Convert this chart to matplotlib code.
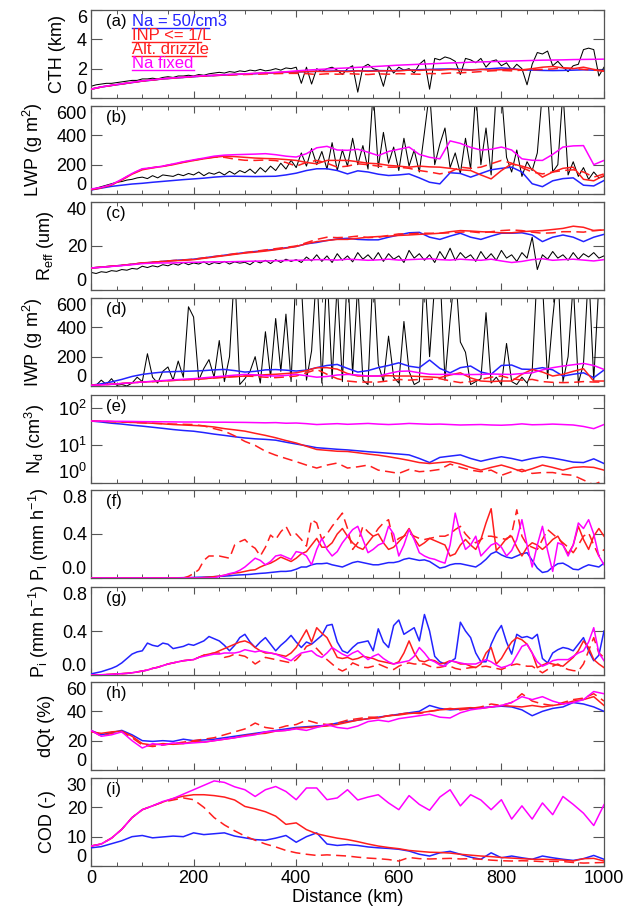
import numpy as np
import matplotlib
matplotlib.use("Agg")
import matplotlib.pyplot as plt
from matplotlib.ticker import MultipleLocator, NullLocator, FixedLocator

plt.rcParams["font.family"] = ["Liberation Sans", "DejaVu Sans"]
plt.rcParams["mathtext.fontset"] = "custom"
plt.rcParams["mathtext.rm"] = "Liberation Sans"
plt.rcParams["mathtext.it"] = "Liberation Sans:italic"
plt.rcParams["mathtext.default"] = "regular"

# distance grids (km): model runs every 20 km, obs / precip every 10 km
dist = np.arange(0, 1001, 20)
dist_fine = np.arange(0, 1001, 10)

# ---------------- (a) cloud top height (km)
cth_obs = [0.8, 0.9, 0.95, 1.0, 1.0, 1.05, 1.1, 1.15, 1.2, 1.2,
           1.3, 1.3, 1.35, 1.3, 1.4, 1.45, 1.4, 1.5, 1.5, 1.55,
           1.5, 1.6, 1.55, 1.65, 1.7, 1.75, 1.7, 1.8, 1.75, 1.85,
           1.8, 1.9, 1.85, 1.95, 1.85, 1.9, 2.0, 1.9, 2.05, 2.0,
           2.1, 1.0, 2.1, 0.95, 2.0, 1.8, 2.0, 2.1, 1.9, 1.6,
           2.0, 2.2, 0.4, 2.1, 2.3, 2.0, 1.9, 0.8, 2.2, 1.7,
           2.1, 1.9, 2.0, 1.7, 2.3, 2.6, 0.6, 2.7, 2.6, 2.8,
           2.7, 2.5, 1.6, 2.7, 2.6, 2.4, 2.7, 2.1, 2.5, 2.6,
           2.2, 2.4, 1.9, 2.3, 2.0, 0.9, 2.3, 3.1, 3.0, 3.2,
           2.2, 2.5, 2.1, 1.8, 2.2, 2.3, 3.3, 3.4, 3.3, 1.5,
           2.1]
cth_na50 = [0.6, 0.75, 0.85, 0.95, 1.05, 1.15, 1.22, 1.3, 1.35, 1.4,
            1.45, 1.5, 1.53, 1.57, 1.6, 1.63, 1.66, 1.69, 1.72, 1.75,
            1.77, 1.8, 1.82, 1.83, 1.85, 1.84, 1.86, 1.85, 1.87, 1.86,
            1.88, 1.9, 1.93, 1.95, 1.97, 1.98, 1.96, 1.92, 1.95, 2.0,
            2.05, 2.0, 1.92, 1.9, 1.88, 1.87, 1.88, 1.9, 1.92, 1.9,
            1.88]
cth_inp = [0.6, 0.75, 0.86, 0.96, 1.06, 1.16, 1.23, 1.31, 1.36, 1.41,
           1.46, 1.51, 1.54, 1.58, 1.61, 1.64, 1.67, 1.7, 1.73, 1.76,
           1.78, 1.8, 1.82, 1.8, 1.83, 1.8, 1.85, 1.82, 1.84, 1.86,
           1.85, 1.9, 1.88, 1.92, 1.9, 1.95, 1.92, 1.9, 1.95, 1.9,
           1.93, 1.96, 1.92, 2.0, 2.1, 2.15, 2.05, 2.0, 2.1, 1.95,
           1.82]
cth_drz = [0.6, 0.75, 0.86, 0.96, 1.06, 1.16, 1.23, 1.31, 1.36, 1.41,
           1.46, 1.5, 1.53, 1.56, 1.58, 1.6, 1.62, 1.64, 1.66, 1.68,
           1.68, 1.66, 1.6, 1.65, 1.62, 1.66, 1.63, 1.6, 1.65, 1.62,
           1.66, 1.64, 1.62, 1.67, 1.65, 1.7, 1.72, 1.75, 1.8, 1.85,
           1.88, 1.85, 1.9, 1.92, 1.95, 1.98, 2.05, 2.02, 1.95, 1.9,
           1.85]
cth_fix = [0.6, 0.76, 0.87, 0.97, 1.07, 1.17, 1.24, 1.32, 1.37, 1.42,
           1.47, 1.52, 1.55, 1.59, 1.62, 1.65, 1.68, 1.72, 1.75, 1.79,
           1.85, 1.9, 1.94, 1.98, 2.02, 2.05, 2.09, 2.12, 2.16, 2.2,
           2.24, 2.27, 2.3, 2.33, 2.36, 2.39, 2.41, 2.44, 2.46, 2.48,
           2.5, 2.52, 2.54, 2.56, 2.58, 2.59, 2.6, 2.62, 2.63, 2.64,
           2.65]

# ---------------- (b) liquid water path (g m-2)
lwp_obs = [30, 40, 50, 60, 70, 80, 85, 95, 100, 110,
           115, 105, 125, 110, 130, 125, 120, 135, 125, 140,
           130, 150, 125, 145, 135, 150, 130, 155, 135, 160,
           145, 170, 140, 180, 150, 190, 160, 210, 170, 230,
           180, 280, 190, 310, 200, 290, 170, 350, 160, 300,
           190, 380, 200, 330, 170, 700, 180, 420, 210, 320,
           160, 380, 190, 300, 150, 420, 700, 200, 340, 450,
           180, 280, 140, 380, 170, 700, 200, 450, 130, 700,
           700, 250, 150, 300, 120, 220, 160, 280, 700, 700,
           150, 200, 700, 130, 220, 120, 180, 100, 150, 110,
           120]
lwp_na50 = [27, 40, 52, 60, 68, 73, 80, 86, 92, 98,
            103, 108, 115, 120, 121, 120, 119, 120, 121, 130,
            142, 160, 172, 172, 160, 137, 158, 150, 135, 126,
            130, 137, 110, 80, 69, 145, 140, 115, 140, 165,
            175, 183, 150, 70, 50, 90, 105, 110, 60, 55,
            92]
lwp_inp = [30, 42, 62, 95, 135, 165, 178, 188, 200, 215,
           228, 240, 250, 258, 255, 250, 245, 242, 240, 235,
           229, 215, 206, 229, 229, 229, 220, 210, 206, 195,
           190, 183, 190, 185, 183, 175, 165, 160, 130, 103,
           160, 206, 190, 170, 115, 150, 175, 183, 100, 90,
           126]
lwp_drz = [30, 42, 62, 98, 138, 170, 180, 190, 203, 218,
           230, 242, 252, 250, 238, 230, 229, 232, 228, 215,
           190, 215, 229, 210, 183, 190, 206, 200, 190, 183,
           183, 175, 160, 150, 137, 150, 183, 175, 183, 206,
           229, 210, 180, 150, 137, 150, 160, 165, 150, 115,
           137]
lwp_fix = [34, 45, 65, 100, 140, 172, 180, 190, 205, 220,
           233, 245, 258, 265, 268, 270, 272, 275, 268, 258,
           252, 275, 315, 325, 300, 298, 305, 285, 262, 290,
           305, 320, 270, 250, 240, 362, 345, 318, 300, 305,
           320, 300, 240, 230, 229, 270, 320, 328, 330, 200,
           229]

# ---------------- (c) effective radius (um)
reff_obs = [8, 7.5, 8.3, 8, 8.8, 8.5, 9.3, 9, 9.8, 9.5,
            10.8, 10.2, 11, 10.5, 11.5, 11, 12, 11.3, 12.5, 11.5,
            12.3, 11.8, 12.8, 11.5, 12.5, 12, 13, 11.8, 12.8, 12.2,
            12.6, 11.5, 13.2, 12.3, 13.5, 12, 13.8, 12.5, 14, 13,
            13.8, 12.5, 15, 13.2, 16, 13, 15.5, 12.5, 16.5, 13.5,
            15.5, 12.8, 17, 14, 16, 13.5, 17, 13, 16.5, 14,
            15.5, 12.5, 18, 14.5, 16.5, 13.5, 16, 12.5, 17.5, 14,
            19, 13.5, 17, 14.5, 16, 13, 17.5, 14, 16.5, 13.5,
            18, 14.5, 16, 13, 17, 14.5, 24, 9.3, 16, 14,
            17.5, 14.5, 16, 13.5, 17, 14, 16.5, 15, 17, 14.5,
            15.5]
reff_na50 = [10, 10.4, 10.8, 11.2, 11.7, 12.2, 12.6, 13, 13.4, 13.7,
             14, 14.6, 15.2, 15.8, 16.4, 17, 17.5, 18, 18.5, 19.2,
             19.8, 21, 21.6, 22.5, 23.2, 23.5, 23, 22.8, 22.8, 24,
             25, 26, 26.2, 24, 23, 24.5, 25.8, 24, 23, 24.5,
             25.8, 25.8, 26, 25, 22, 24, 25, 24, 22, 24,
             25.3]
reff_inp = [10, 10.4, 10.8, 11.2, 11.7, 12.3, 12.6, 13, 13.3, 13.5,
            13.8, 14.4, 15, 15.6, 16.2, 16.8, 17.2, 17.7, 18.3, 19,
            19.8, 21, 22, 22.5, 23, 23, 23.5, 24, 24.3, 24.5,
            24.8, 25, 25.3, 25.5, 25.8, 26.5, 27, 26.8, 26.5, 26.3,
            26, 26, 26.5, 26.8, 27, 27.5, 28, 29, 28.5, 27,
            27.3]
reff_drz = [10, 10.4, 10.8, 11.2, 11.7, 12.3, 12.6, 13, 13.4, 13.6,
            14, 14.6, 15.2, 15.8, 16.5, 17, 17.6, 18.2, 18.8, 19.4,
            20, 21.5, 23, 24, 23.8, 24, 24.5, 23.8, 24, 24.8,
            25.5, 25.5, 25.8, 25.8, 25.8, 26, 26.3, 26.5, 26, 26.5,
            27, 27.3, 27, 26.3, 25.8, 26, 26.5, 26.5, 26.3, 27,
            27.3]
reff_fix = [10, 10.3, 10.7, 11.1, 11.5, 12, 12.2, 12.3, 12.3, 12.5,
            12.6, 12.7, 12.8, 12.8, 12.9, 13, 13.1, 13.2, 13.3, 13.4,
            13.5, 13.6, 13.8, 13.8, 13.6, 14, 13.8, 13.5, 13.7, 14,
            13.6, 13.8, 14, 14.2, 13.8, 13.6, 14, 13.7, 13.5, 14,
            13.2, 12.5, 13, 13.8, 14.2, 13.5, 13.8, 14, 13.6, 13.2,
            13.8]

# ---------------- (d) ice water path (g m-2)
iwp_obs = [0, 5, 40, 10, 50, 5, 10, 0, 20, 60,
           30, 220, 60, 20, 100, 130, 40, 170, 60, 540,
           470, 40, 120, 180, 60, 310, 30, 200, 800, 10,
           50, 100, 200, 20, 370, 60, 460, 100, 490, 30,
           800, 700, 40, 240, 800, 20, 800, 50, 700, 30,
           800, 80, 700, 40, 10, 800, 150, 30, 340, 60,
           20, 440, 100, 10, 30, 800, 200, 700, 800, 40,
           450, 800, 300, 230, 10, 30, 50, 500, 20, 60,
           10, 290, 30, 10, 60, 20, 100, 800, 700, 50,
           460, 800, 30, 200, 700, 20, 150, 800, 40, 700,
           800]
iwp_na50 = [5, 15, 28, 45, 65, 79, 88, 95, 98, 100,
            102, 105, 110, 113, 105, 95, 100, 110, 112, 108,
            102, 108, 125, 140, 147, 120, 95, 105, 125, 140,
            158, 135, 125, 177, 120, 90, 125, 136, 95, 80,
            140, 143, 115, 113, 125, 110, 68, 80, 90, 57,
            109]
iwp_inp = [5, 8, 12, 17, 22, 27, 30, 34, 38, 42,
           45, 50, 55, 60, 64, 68, 72, 77, 80, 85,
           90, 105, 125, 125, 115, 85, 68, 68, 68, 70,
           68, 68, 65, 62, 57, 75, 90, 55, 34, 30,
           34, 34, 80, 113, 95, 68, 80, 100, 118, 34,
           34]
iwp_drz = [5, 8, 12, 17, 22, 27, 30, 34, 38, 42,
           45, 50, 55, 60, 64, 68, 65, 60, 57, 62,
           68, 90, 113, 80, 50, 34, 27, 27, 27, 35,
           45, 40, 45, 45, 50, 35, 23, 30, 45, 60,
           68, 50, 40, 45, 30, 25, 23, 25, 30, 27,
           27]
iwp_fix = [5, 8, 12, 17, 22, 27, 32, 37, 42, 46,
           50, 56, 62, 68, 74, 79, 76, 70, 68, 72,
           79, 70, 60, 65, 75, 79, 75, 68, 68, 85,
           100, 102, 90, 80, 79, 80, 79, 78, 79, 82,
           80, 79, 85, 90, 110, 125, 136, 145, 154, 140,
           113]

# ---------------- (e) droplet number (cm-3)
nd_na50 = [44.6, 42, 39, 37, 34.5, 32.6, 30.5, 28.5, 26.5, 25,
           23.9, 22, 20, 18.5, 17, 15.8, 15, 14.5, 13.8, 12.2,
           10.9, 9.8, 8.7, 8.3, 7.9, 7.6, 7.2, 6.8, 6.5, 6.2,
           5.9, 5.6, 4.5, 3.5, 4.8, 5.2, 5.6, 4.5, 3.8, 4.4,
           5.0, 4.5, 3.9, 4.5, 5.0, 4.6, 4.1, 3.6, 3.5, 4.4,
           3.3]
nd_inp = [44.6, 44, 43, 42, 41, 40, 39, 37.5, 36, 35,
          34, 33, 31, 28, 26, 24, 21, 18.5, 16, 13.5,
          11.6, 9.5, 7.8, 7.4, 7.0, 6.9, 6.4, 5.9, 5.5, 5.0,
          4.5, 4.0, 3.5, 3.3, 3.5, 3.7, 3.2, 2.6, 2.2, 2.6,
          3.0, 2.5, 2.0, 2.4, 3.0, 2.6, 2.2, 2.6, 2.7, 2.6,
          2.2]
nd_drz = [44.6, 44, 43, 42, 41, 40, 39, 38, 37, 36.5,
          36, 33, 28, 24, 18, 12.8, 10, 7, 5.5, 4.5,
          3.7, 3.0, 2.5, 3.0, 3.4, 2.5, 2.7, 3.0, 2.2, 2.0,
          1.8, 2.3, 2.0, 2.1, 2.3, 3.2, 2.6, 2.2, 2.0, 2.2,
          1.6, 2.0, 2.3, 1.8, 1.9, 1.9, 1.7, 1.6, 1.2, 0.9,
          1.2]
nd_fix = [44.6, 44.5, 44, 43.8, 43.5, 43, 42.8, 42.5, 42.3, 42,
          42, 41.8, 41.5, 41.5, 41.2, 41, 40.5, 40, 40.5, 39,
          39.5, 38, 36, 37, 38, 36.5, 37.5, 38.5, 37, 36,
          37, 38.5, 37.5, 36.5, 37, 36, 35, 35.5, 36, 35,
          34.5, 35.5, 37.5, 35.5, 36, 37, 36, 35, 32, 28,
          36]

# ---------------- (f) liquid precipitation (mm h-1), 10 km steps
pl_na50 = [0, 0, 0, 0, 0, 0, 0, 0, 0, 0,
           0, 0, 0, 0, 0, 0, 0, 0.002, 0.003, 0.004,
           0.005, 0.007, 0.008, 0.01, 0.012, 0.015, 0.017, 0.02, 0.025, 0.028,
           0.03, 0.033, 0.038, 0.042, 0.045, 0.05, 0.055, 0.06, 0.06, 0.065,
           0.08, 0.1, 0.1, 0.12, 0.13, 0.13, 0.135, 0.12, 0.11, 0.1,
           0.12, 0.14, 0.15, 0.14, 0.13, 0.12, 0.12, 0.13, 0.14, 0.14,
           0.15, 0.17, 0.18, 0.17, 0.16, 0.165, 0.15, 0.12, 0.09, 0.1,
           0.12, 0.13, 0.13, 0.12, 0.11, 0.1, 0.13, 0.17, 0.22, 0.24,
           0.21, 0.19, 0.18, 0.2, 0.22, 0.23, 0.16, 0.09, 0.05, 0.06,
           0.1, 0.13, 0.135, 0.11, 0.08, 0.075, 0.1, 0.12, 0.11, 0.1,
           0.135]
pl_inp = [0, 0, 0, 0, 0, 0, 0, 0, 0, 0,
          0, 0, 0, 0, 0, 0, 0, 0, 0, 0,
          0, 0, 0.005, 0.008, 0.012, 0.017, 0.025, 0.035, 0.045, 0.05,
          0.06, 0.07, 0.075, 0.1, 0.12, 0.135, 0.16, 0.19, 0.17, 0.15,
          0.18, 0.22, 0.24, 0.3, 0.36, 0.28, 0.28, 0.32, 0.4, 0.45,
          0.38, 0.32, 0.28, 0.26, 0.32, 0.38, 0.4, 0.32, 0.26, 0.28,
          0.33, 0.38, 0.45, 0.36, 0.29, 0.32, 0.36, 0.34, 0.32, 0.3,
          0.2, 0.22, 0.3, 0.35, 0.3, 0.26, 0.35, 0.5, 0.63, 0.25,
          0.3, 0.36, 0.38, 0.28, 0.2, 0.28, 0.32, 0.3, 0.26, 0.3,
          0.35, 0.38, 0.3, 0.22, 0.3, 0.47, 0.35, 0.26, 0.38, 0.45,
          0.38]
pl_drz = [0, 0, 0, 0, 0, 0, 0, 0, 0, 0,
          0, 0, 0, 0, 0, 0, 0, 0, 0, 0.015,
          0.04, 0.075, 0.16, 0.2, 0.2, 0.2, 0.19, 0.18, 0.3, 0.33,
          0.35, 0.3, 0.27, 0.2, 0.28, 0.39, 0.35, 0.42, 0.47, 0.38,
          0.4, 0.35, 0.29, 0.53, 0.5, 0.35, 0.4, 0.47, 0.53, 0.59,
          0.45, 0.26, 0.32, 0.47, 0.42, 0.38, 0.45, 0.5, 0.53, 0.32,
          0.36, 0.38, 0.41, 0.38, 0.36, 0.35, 0.36, 0.37, 0.38, 0.38,
          0.4, 0.44, 0.47, 0.4, 0.35, 0.32, 0.35, 0.38, 0.38, 0.37,
          0.36, 0.35, 0.4, 0.62, 0.38, 0.3, 0.28, 0.26, 0.35, 0.44,
          0.4, 0.36, 0.32, 0.28, 0.23, 0.3, 0.38, 0.41, 0.3, 0.2,
          0.26]
pl_fix = [0, 0, 0, 0, 0, 0, 0, 0, 0, 0,
          0, 0, 0, 0, 0, 0, 0, 0, 0, 0,
          0, 0, 0, 0, 0, 0.015, 0.025, 0.04, 0.05, 0.07,
          0.1, 0.14, 0.18, 0.16, 0.12, 0.15, 0.2, 0.21, 0.19, 0.17,
          0.24, 0.23, 0.2, 0.12, 0.26, 0.36, 0.26, 0.2, 0.24, 0.32,
          0.38, 0.44, 0.47, 0.35, 0.23, 0.26, 0.3, 0.32, 0.47, 0.4,
          0.2, 0.3, 0.44, 0.35, 0.23, 0.2, 0.18, 0.17, 0.15, 0.135,
          0.3, 0.59, 0.4, 0.26, 0.3, 0.38, 0.2, 0.25, 0.3, 0.32,
          0.28, 0.2, 0.25, 0.35, 0.53, 0.3, 0.1, 0.3, 0.47, 0.25,
          0.06, 0.32, 0.3, 0.2, 0.3, 0.5, 0.45, 0.53, 0.4, 0.2,
          0.12]

# ---------------- (g) ice precipitation (mm h-1), 10 km steps
pi_na50 = [0.01, 0.02, 0.03, 0.045, 0.06, 0.08, 0.11, 0.15, 0.19, 0.21,
           0.22, 0.29, 0.27, 0.26, 0.29, 0.28, 0.24, 0.25, 0.26, 0.28,
           0.27, 0.29, 0.31, 0.35, 0.33, 0.31, 0.27, 0.22, 0.27, 0.34,
           0.37, 0.3, 0.25, 0.3, 0.34, 0.28, 0.22, 0.27, 0.31, 0.36,
           0.3, 0.25, 0.3, 0.28, 0.32, 0.36, 0.45, 0.46, 0.3, 0.22,
           0.2, 0.25, 0.29, 0.3, 0.31, 0.22, 0.42, 0.3, 0.25, 0.45,
           0.5, 0.37, 0.4, 0.43, 0.31, 0.55, 0.4, 0.17, 0.12, 0.1,
           0.12, 0.15, 0.48, 0.4, 0.34, 0.2, 0.12, 0.12, 0.28, 0.38,
           0.45, 0.3, 0.19, 0.37, 0.34, 0.35, 0.33, 0.37, 0.15, 0.11,
           0.2, 0.23, 0.25, 0.24, 0.22, 0.28, 0.34, 0.22, 0.13, 0.18,
           0.4]
pi_inp = [0, 0, 0.002, 0.004, 0.006, 0.01, 0.012, 0.015, 0.02, 0.028,
          0.036, 0.045, 0.06, 0.07, 0.085, 0.1, 0.11, 0.12, 0.13, 0.135,
          0.14, 0.16, 0.18, 0.19, 0.2, 0.22, 0.24, 0.26, 0.28, 0.3,
          0.31, 0.29, 0.25, 0.22, 0.2, 0.2, 0.19, 0.18, 0.17, 0.2,
          0.25, 0.33, 0.41, 0.3, 0.43, 0.38, 0.34, 0.25, 0.16, 0.15,
          0.16, 0.14, 0.15, 0.17, 0.16, 0.15, 0.13, 0.12, 0.11, 0.1,
          0.12, 0.2, 0.31, 0.2, 0.13, 0.12, 0.14, 0.13, 0.1, 0.11,
          0.13, 0.12, 0.1, 0.1, 0.08, 0.067, 0.1, 0.2, 0.25, 0.1,
          0.15, 0.23, 0.3, 0.34, 0.32, 0.28, 0.2, 0.067, 0.09, 0.11,
          0.1, 0.09, 0.08, 0.12, 0.16, 0.22, 0.31, 0.25, 0.14, 0.1,
          0.067]
pi_drz = [0, 0, 0.002, 0.004, 0.006, 0.01, 0.012, 0.015, 0.02, 0.028,
          0.036, 0.045, 0.06, 0.07, 0.085, 0.1, 0.11, 0.12, 0.13, 0.135,
          0.14, 0.16, 0.18, 0.19, 0.2, 0.2, 0.16, 0.17, 0.19, 0.18,
          0.17, 0.14, 0.1, 0.13, 0.16, 0.15, 0.14, 0.13, 0.12, 0.11,
          0.14, 0.19, 0.26, 0.28, 0.24, 0.19, 0.14, 0.1, 0.06, 0.036,
          0.06, 0.11, 0.09, 0.07, 0.067, 0.08, 0.1, 0.08, 0.06, 0.05,
          0.08, 0.1, 0.11, 0.1, 0.1, 0.1, 0.08, 0.067, 0.07, 0.08,
          0.08, 0.06, 0.05, 0.06, 0.067, 0.07, 0.075, 0.08, 0.07, 0.06,
          0.05, 0.07, 0.09, 0.1, 0.09, 0.08, 0.08, 0.05, 0.02, 0.05,
          0.08, 0.1, 0.07, 0.05, 0.04, 0.036, 0.1, 0.22, 0.34, 0.2,
          0.16]
pi_fix = [0, 0, 0.002, 0.004, 0.006, 0.01, 0.012, 0.015, 0.02, 0.028,
          0.036, 0.045, 0.06, 0.07, 0.085, 0.1, 0.11, 0.12, 0.13, 0.135,
          0.14, 0.16, 0.17, 0.18, 0.19, 0.19, 0.2, 0.2, 0.2, 0.21,
          0.23, 0.22, 0.21, 0.22, 0.21, 0.2, 0.19, 0.17, 0.15, 0.13,
          0.17, 0.2, 0.21, 0.22, 0.18, 0.16, 0.2, 0.25, 0.22, 0.19,
          0.17, 0.2, 0.22, 0.18, 0.14, 0.17, 0.19, 0.15, 0.12, 0.1,
          0.11, 0.12, 0.13, 0.17, 0.25, 0.2, 0.14, 0.12, 0.09, 0.08,
          0.13, 0.12, 0.11, 0.1, 0.1, 0.1, 0.12, 0.14, 0.12, 0.09,
          0.067, 0.08, 0.1, 0.18, 0.26, 0.28, 0.2, 0.12, 0.08, 0.1,
          0.13, 0.14, 0.14, 0.14, 0.17, 0.2, 0.22, 0.3, 0.43, 0.2,
          0.13]

# ---------------- (h) total water loss dQt (%)
dqt_na50 = [27, 24, 25.5, 27, 24, 20, 19.5, 20, 19.5, 21,
            20, 20.5, 21, 22, 23, 24, 25, 26, 27, 28,
            29, 29.5, 30, 30.5, 32, 33, 34, 35, 36, 37,
            38, 39, 40, 44, 42, 41, 41.5, 42, 42.5, 43,
            43.5, 43, 41, 37, 40, 42, 43, 46, 45, 43,
            40]
dqt_inp = [26, 25, 26, 26.5, 23, 18, 17, 18, 17.5, 18,
           19.5, 19, 20, 21, 22, 23.5, 24.5, 25, 26.5, 27,
           28.5, 29, 29.5, 30, 31, 32.5, 34, 35, 35.5, 37,
           37.5, 38.5, 39, 40, 41, 41.5, 42, 42.5, 42, 43,
           44, 43.5, 43, 44, 43, 44, 45, 47, 48, 50,
           44]
dqt_drz = [27, 23, 25, 26, 22, 17, 16, 17, 18, 19,
           20, 21, 22, 24, 26, 28, 32, 29, 28, 30,
           31, 34, 32, 31, 32, 34, 35, 36, 36, 37,
           38, 39, 38.5, 40, 41, 42, 41, 42, 43, 45,
           44, 46, 52, 47, 45, 44, 46, 48, 49, 52,
           47]
dqt_fix = [27, 23, 24, 26, 20, 15, 18, 17, 18.5, 18,
           18.5, 19, 20, 21, 22, 23, 24, 26, 26.5, 27,
           28, 27, 29, 31, 29, 28.2, 30, 33, 34, 33,
           35, 36, 37, 38, 36, 35.5, 39, 41, 42, 43,
           44, 46, 50, 48, 50, 47, 45, 46, 48, 53.5,
           52]

# ---------------- (i) cloud optical depth (-)
cod_na50 = [6.2, 6.6, 7.6, 8.6, 10.0, 10.4, 9.6, 9.9, 10.2, 10.0,
            11.3, 10.7, 11, 11.3, 10.2, 9.6, 9.0, 8.8, 9.5, 10.4,
            8.1, 10, 11.3, 7.5, 7.0, 7.3, 7.0, 6.5, 6.2, 6.0,
            5.7, 5.1, 4.0, 3.4, 4.5, 5.0, 4.0, 3.0, 2.3, 4.5,
            2.8, 3.4, 2.8, 2.3, 3.4, 2.8, 2.3, 1.9, 2.5, 3.6,
            2.3]
cod_inp = [6.8, 7.5, 9.5, 12.5, 16.5, 19.2, 20.5, 21.8, 23, 23.8,
           24.3, 24.3, 24, 23.5, 22.5, 20.3, 19.5, 18.5, 17, 14.2,
           14.7, 12.4, 11, 10.2, 9.5, 9.0, 8.3, 7.5, 6.8, 6.3,
           5.9, 5.3, 5.0, 4.7, 4.6, 4.4, 4.0, 3.7, 3.4, 3.2,
           2.9, 2.7, 2.5, 2.3, 2.3, 2.2, 2.0, 1.7, 2.5, 2.6,
           1.7]
cod_drz = [6.8, 7.5, 9.5, 12.5, 16.5, 19.2, 20.5, 21.8, 22.5, 23.2,
           22.6, 20, 16.5, 14, 12, 10.2, 8.8, 7.5, 6.5, 5.3,
           4.5, 4.0, 3.6, 3.8, 3.6, 3.4, 3.0, 2.7, 2.5, 2.2,
           1.7, 2.9, 2.5, 2.4, 2.5, 2.6, 2.4, 2.5, 2.3, 2.0,
           1.8, 1.7, 1.8, 1.7, 1.5, 1.6, 1.5, 1.2, 1.0, 1.1,
           1.2]
cod_fix = [6.8, 7.5, 9.5, 12.5, 16.5, 19.2, 20.5, 22, 23, 24.5,
           26, 27.5, 29, 28.5, 27, 26, 23.7, 26, 27.1, 25.4,
           22.6, 26.6, 26.6, 22.6, 23.2, 26, 22.5, 23.5, 24.3, 21.5,
           19.2, 24, 21, 19, 23.5, 26, 20.5, 24.3, 22.5, 19.2,
           22.6, 16, 20.5, 16, 21.5, 17.5, 23.7, 21, 18, 13.8,
           20.9]

legend_labels = ["Na = 50/cm3", "INP <= 1/L", "Alt. drizzle", "Na fixed"]

BLUE = "#2323ff"
RED = "#ff1e1e"
MAGENTA = "#ff00ff"
FRAME = "#555555"
DASH = (0, (6.5, 3.5))

panels = [
    ("(a)", "CTH (km)", (0, 6), [0, 2, 4, 6], False,
     (dist_fine, cth_obs), dist, (cth_na50, cth_inp, cth_drz, cth_fix)),
    ("(b)", "LWP (g m$^2$)", (0, 600), [0, 200, 400, 600], False,
     (dist_fine, lwp_obs), dist, (lwp_na50, lwp_inp, lwp_drz, lwp_fix)),
    ("(c)", "R$_{eff}$ (um)", (0, 40), [0, 20, 40], False,
     (dist_fine, reff_obs), dist, (reff_na50, reff_inp, reff_drz, reff_fix)),
    ("(d)", "IWP (g m$^2$)", (0, 600), [0, 200, 400, 600], False,
     (dist_fine, iwp_obs), dist, (iwp_na50, iwp_inp, iwp_drz, iwp_fix)),
    ("(e)", "N$_d$ (cm$^3$)", (1, 220), [1, 10, 100], True,
     None, dist, (nd_na50, nd_inp, nd_drz, nd_fix)),
    ("(f)", "P$_l$ (mm h$^{-1}$)", (0, 0.8), [0, 0.4, 0.8], False,
     None, dist_fine, (pl_na50, pl_inp, pl_drz, pl_fix)),
    ("(g)", "P$_i$ (mm h$^{-1}$)", (0, 0.8), [0, 0.4, 0.8], False,
     None, dist_fine, (pi_na50, pi_inp, pi_drz, pi_fix)),
    ("(h)", "dQt (%)", (0, 60), [0, 20, 40, 60], False,
     None, dist, (dqt_na50, dqt_inp, dqt_drz, dqt_fix)),
    ("(i)", "COD (-)", (0, 30), [0, 10, 20, 30], False,
     None, dist, (cod_na50, cod_inp, cod_drz, cod_fix)),
]

W, H = 635, 911
fig = plt.figure(figsize=(W / 100, H / 100), dpi=100)
left_px, right_px = 91, 604
tops_px = [10, 106, 202, 298, 395, 490, 587, 682, 778]
height_px = 88

for i, (tag, ylab, ylim, yticks, logy, obs, xm, series) in enumerate(panels):
    top = tops_px[i]
    ax = fig.add_axes([left_px / W, 1 - (top + height_px) / H,
                       (right_px - left_px) / W, height_px / H])
    if obs is not None:
        ax.plot(obs[0], obs[1], color="black", lw=0.75, zorder=2)
    na50, inp, drz, fix = series
    ax.plot(xm, na50, color=BLUE, lw=1.1, zorder=3)
    ax.plot(xm, inp, color=RED, lw=1.1, zorder=3)
    ax.plot(xm, drz, color=RED, lw=1.1, ls=DASH, zorder=3)
    ax.plot(xm, fix, color=MAGENTA, lw=1.1, zorder=4)

    ax.set_xlim(0, 1000)
    if logy:
        ax.set_yscale("log")
        ax.yaxis.set_major_locator(FixedLocator(yticks))
        ax.yaxis.set_minor_locator(NullLocator())
    else:
        ax.set_yticks(yticks)
        if ylim[1] < 1:
            ax.set_yticklabels([f"{v:.1f}" for v in yticks])
    ax.set_ylim(*ylim)
    ax.xaxis.set_major_locator(MultipleLocator(200))
    ax.xaxis.set_minor_locator(MultipleLocator(50))
    ax.tick_params(which="both", direction="in", top=True, right=True,
                   color=FRAME, labelsize=13, pad=3)
    ax.tick_params(axis="y", which="major", length=8, width=0.8)
    ax.tick_params(axis="x", which="major", length=5, width=0.8)
    ax.tick_params(axis="x", which="minor", length=3, width=0.7)
    for sp in ax.spines.values():
        sp.set_color(FRAME)
        sp.set_linewidth(0.9)

    ax.set_ylabel(ylab, fontsize=13, labelpad=8)
    ax.text(0.03, 0.95, tag, transform=ax.transAxes, fontsize=12,
            ha="left", va="top")

    labels = ax.get_yticklabels()
    labels[0].set_verticalalignment("bottom")
    if not logy:
        labels[-1].set_verticalalignment("top")

    if i == len(panels) - 1:
        ax.set_xlabel("Distance (km)", fontsize=13, labelpad=1)
    else:
        ax.tick_params(axis="x", labelbottom=False)

    if i == 0:
        # legend drawn as coloured text with a line underneath
        leg_cols = [BLUE, RED, RED, MAGENTA]
        leg_len = [0.23, 0.215, 0.225, 0.2]
        for k, lab in enumerate(legend_labels):
            yb = 1 - (16 + 14 * k) / height_px
            ax.text(0.08, yb, lab, transform=ax.transAxes, color=leg_cols[k],
                    fontsize=12, ha="left", va="baseline")
            yl = yb - 1.5 / height_px
            ax.plot([0.08, leg_len[k]], [yl, yl], transform=ax.transAxes,
                    color=leg_cols[k], lw=1.0, clip_on=False)

fig.savefig("out.png", dpi=100)
